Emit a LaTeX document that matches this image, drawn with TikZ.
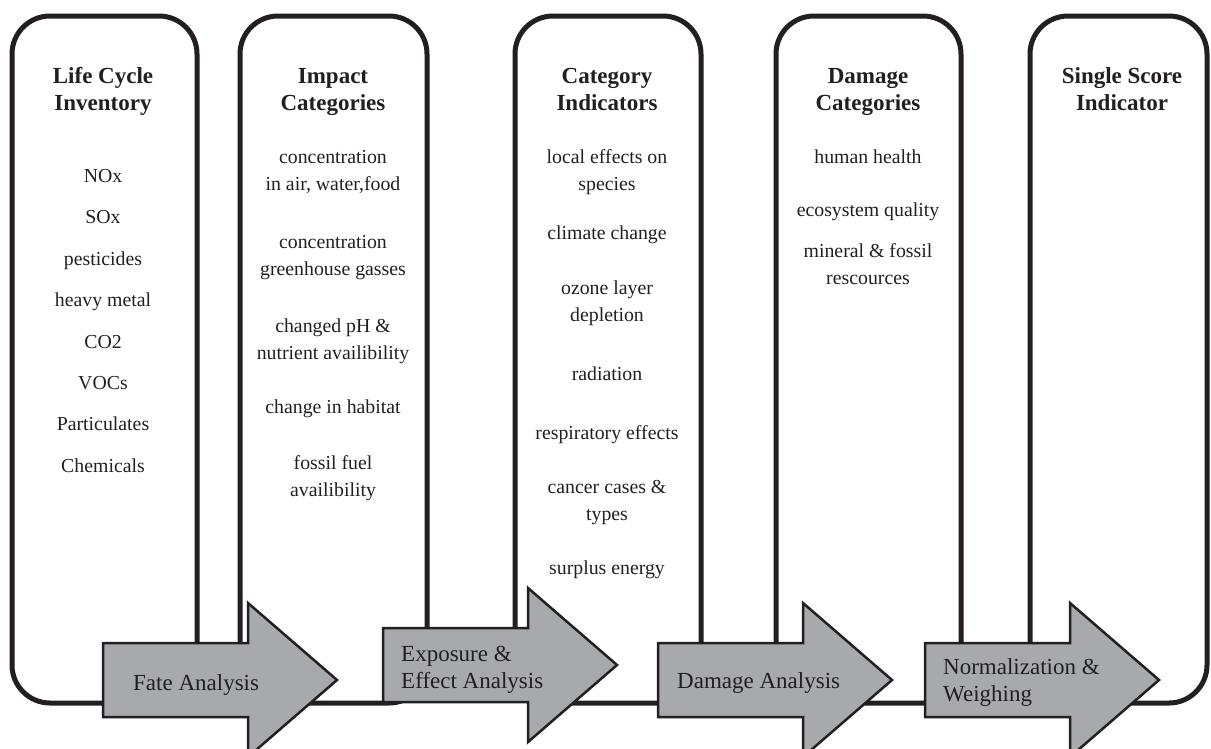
\documentclass[tikz,border=0pt]{standalone}
\usepackage{fontspec}
\setmainfont{Liberation Serif}
\usetikzlibrary{positioning}
\definecolor{ink}{HTML}{231F20}
\definecolor{stagegray}{HTML}{A7A9AC}
\tikzset{
  column/.style={draw=ink, line width=5pt, rounded corners=38pt, minimum height=687pt, inner sep=0pt, outer sep=0pt},
  colhead/.style={font=\fontsize{23}{27}\selectfont\bfseries, text=ink, align=center, anchor=base},
  colitem/.style={font=\fontsize{19.8}{27}\selectfont, text=ink, align=center, anchor=base},
  stage/.style={draw=ink, line width=2.5pt, fill=stagegray, line join=miter},
  stagetext/.style={font=\fontsize{23}{27}\selectfont, text=ink, align=left, anchor=base west, inner sep=0pt},
}
\begin{document}
\begin{tikzpicture}[x=1pt, y=-1pt]
\clip (0,0) rectangle (1211,748);
% the five columns
\node[column, minimum width=185pt] at (104.5,359.5) (lci) {};
\node[column, minimum width=187pt, right=43pt of lci] (ic) {};
\node[column, minimum width=186pt, right=88pt of ic] (ci) {};
\node[column, minimum width=185pt, right=75pt of ci] (dc) {};
\node[column, minimum width=177pt, right=69pt of dc] (ssi) {};
% headings (base = last line)
\node[colhead] at (103,110) (lcihead) {Life Cycle\\Inventory};
\node[colhead] at (333,110) (ichead) {Impact\\Categories};
\node[colhead] at (607,110) (cihead) {Category\\Indicators};
\node[colhead] at (868,110) (dchead) {Damage\\Categories};
\node[colhead] at (1122,110) (ssihead) {Single Score\\Indicator};
% inventory
\node[colitem] at (103,182) (nox) {NOx};
\node[colitem] at (103,223) (sox) {SOx};
\node[colitem] at (103,265) (pest) {pesticides};
\node[colitem] at (103,306) (metal) {heavy metal};
\node[colitem] at (103,348) (co2) {CO2};
\node[colitem] at (103,389) (voc) {VOCs};
\node[colitem] at (103,430) (part) {Particulates};
\node[colitem] at (103,472) (chem) {Chemicals};
% impact categories
\node[colitem] at (333,190) (conc) {concentration\\in air, water,food};
\node[colitem] at (333,275) (ghg) {concentration\\greenhouse gasses};
\node[colitem] at (333,359) (ph) {changed pH \&\\nutrient availibility};
\node[colitem] at (333,413) (habitat) {change in habitat};
\node[colitem] at (333,496) (fuel) {fossil fuel\\availibility};
% category indicators
\node[colitem] at (607,190) (local) {local effects on\\species};
\node[colitem] at (607,239) (climate) {climate change};
\node[colitem] at (607,321) (ozone) {ozone layer\\depletion};
\node[colitem] at (607,380) (rad) {radiation};
\node[colitem] at (607,439) (resp) {respiratory effects};
\node[colitem] at (607,520) (cancer) {cancer cases \&\\types};
\node[colitem] at (607,574) (energy) {surplus energy};
% damage categories
\node[colitem] at (868,163) (health) {human health};
\node[colitem] at (868,216) (eco) {ecosystem quality};
\node[colitem] at (868,284) (res) {mineral \& fossil\\rescources};
% stage arrows
\foreach \l/\c in {103/680,383/665,658/680,925/680}
  \draw[stage] (\l,\c-37) -- (\l+145,\c-37) -- (\l+145,\c-77) -- (\l+234,\c)
    -- (\l+145,\c+77) -- (\l+145,\c+37) -- (\l,\c+37) -- cycle;
\node[stagetext] at (133,690) (fate) {Fate Analysis};
\node[stagetext] at (401,688) (expo) {Exposure \&\\Effect Analysis};
\node[stagetext] at (677,688) (damage) {Damage Analysis};
\node[stagetext] at (943,701) (norm) {Normalization \&\\Weighing};
\end{tikzpicture}
\end{document}
